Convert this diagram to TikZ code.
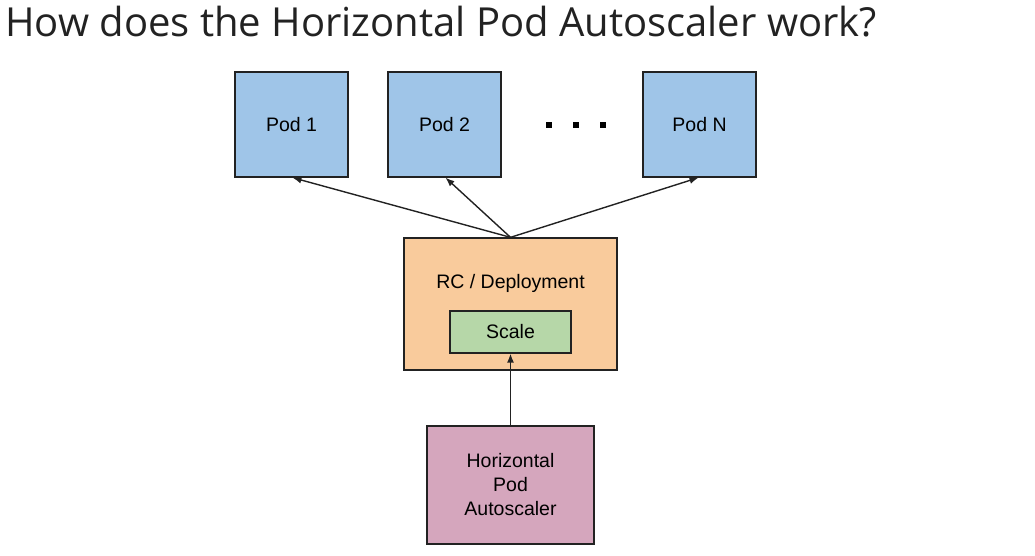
\documentclass[tikz,border=0pt]{standalone}
\usepackage{fontspec}
\setmainfont{Liberation Sans}
\newfontfamily\titlefont{Open Sans}
\usetikzlibrary{arrows.meta}
\definecolor{podblue}{HTML}{9FC5E8}
\definecolor{rcorange}{HTML}{F9CB9C}
\definecolor{scalegreen}{HTML}{B6D7A8}
\definecolor{hpapink}{HTML}{D5A6BD}
\definecolor{edge}{HTML}{222222}
\begin{document}
\begin{tikzpicture}[
		x=1pt, y=-1pt,
		box/.style={rectangle, draw=edge, line width=1.3pt, inner sep=0pt,
				font=\fontsize{19.5}{24}\selectfont, align=center},
		pod/.style={box, fill=podblue, minimum width=113pt, minimum height=105pt},
		link/.style={-{Latex[length=9pt,width=7pt]}, line width=1.4pt, edge}
	]
	\useasboundingbox (0,0) rectangle (1035,556);

	\node[anchor=base west, inner sep=0pt, text=edge, font=\titlefont\fontsize{40}{42}\selectfont]
		(title) at (5,37) {How does the Horizontal Pod Autoscaler work?};

	\node[pod] (pod1) at (291.5,124.5) {Pod 1};
	\node[pod] (pod2) at (444.5,124.5) {Pod 2};
	\node[pod] (podn) at (699.5,124.5) {Pod N};
	\foreach \i/\x in {1/549, 2/576, 3/603}
		\node[rectangle, fill=black, inner sep=0pt, minimum size=6pt] (dot\i) at (\x,125) {};

	\node[box, fill=rcorange, minimum width=213pt, minimum height=132pt] (rc) at (510.5,304) {};
	\node[font=\fontsize{19.5}{24}\selectfont] (rclabel) at (510.5,283) {RC / Deployment};
	\node[box, fill=scalegreen, minimum width=121pt, minimum height=42pt] (scale) at (510.5,332) {Scale};

	\node[box, fill=hpapink, minimum width=167pt, minimum height=118pt] (hpa) at (510.5,485)
		{Horizontal\\Pod\\Autoscaler};

	\draw[link] (rc.north) -- ([xshift=1pt]pod1.south);
	\draw[link] (rc.north) -- ([xshift=1pt]pod2.south);
	\draw[link] (rc.north) -- ([xshift=-1pt]podn.south);
	\draw[link] (hpa.north) -- (scale.south);
\end{tikzpicture}
\end{document}
